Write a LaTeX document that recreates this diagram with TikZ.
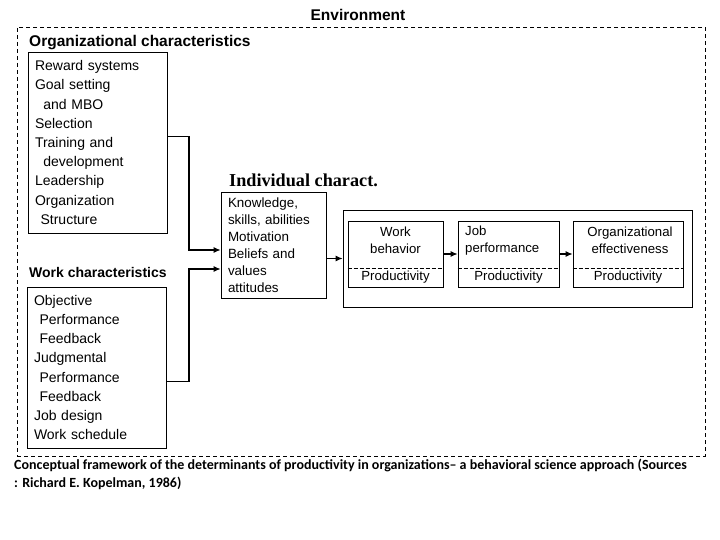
\documentclass[tikz,border=0pt]{standalone}
\usepackage{fontspec}
\setmainfont{Liberation Sans}
\newfontfamily\capfont{Carlito}
\newfontfamily\serifbold{Liberation Serif}
\usetikzlibrary{arrows.meta}

\begin{document}
\begin{tikzpicture}[x=1pt,y=-1pt,
  envbox/.style={draw,dashed,dash pattern=on 4pt off 3pt,line width=.7pt,inner sep=0pt},
  listbox/.style={draw,line width=.8pt,align=left,inner xsep=7pt,inner ysep=0pt,
    font=\fontsize{14}{19.2}\selectfont},
  smallbox/.style={draw,line width=.8pt,inner sep=0pt,minimum height=66pt},
  heading/.style={anchor=west,inner sep=0pt,font=\bfseries\fontsize{15.5}{18}\selectfont},
  cell/.style={align=center,inner sep=0pt,font=\fontsize{13.2}{17}\selectfont},
  arr/.style={-{Latex[length=7pt,width=6pt]},line width=1.1pt}]
  \useasboundingbox (0,0) rectangle (720,540);
  % environment frame
  \node[envbox,minimum width=688pt,minimum height=429pt] (env) at (361,241.5) {};
  \node[inner sep=0pt,font=\bfseries\fontsize{15.5}{18}\selectfont] (envlab) at (358,15) {Environment};
  % left column
  \node[heading] (orglab) at (29,43) {Organizational characteristics};
  \node[listbox,text width=125pt,minimum height=181pt] (org) at (97.5,142.5)
  {Reward systems\\Goal setting\\\hspace*{.6em}and MBO\\Selection\\Training and\\
   \hspace*{.6em}development\\Leadership\\Organization\\\hspace*{.4em}Structure};
  \node[heading,font=\bfseries\fontsize{14}{16}\selectfont] (worklab) at (29,272) {Work characteristics};
  \node[listbox,text width=125pt,minimum height=161pt] (work) at (96.5,367.5)
  {Objective\\\hspace*{.4em}Performance\\\hspace*{.4em}Feedback\\Judgmental\\
   \hspace*{.4em}Performance\\\hspace*{.4em}Feedback\\Job design\\Work schedule};
  % individual
  \node[anchor=west,inner sep=0pt,font=\serifbold\bfseries\fontsize{18.2}{21}\selectfont]
    (indlab) at (229,180) {Individual charact.};
  \node[draw,line width=.8pt,align=left,inner xsep=7pt,inner ysep=0pt,text width=91pt,
    minimum height=106pt,font=\fontsize{13.4}{17}\selectfont] (ind) at (273.5,245)
  {Knowledge,\\skills, abilities\\Motivation\\Beliefs and\\values\\attitudes};
  % outcomes
  \node[draw,line width=.8pt,minimum width=349pt,minimum height=97pt] (out) at (517.5,258.5) {};
  \node[smallbox,minimum width=95pt] (wb) at (395.5,254) {};
  \node[smallbox,minimum width=101pt] (jp) at (508.5,254) {};
  \node[smallbox,minimum width=110pt] (oe) at (628,254) {};
  \foreach \b in {wb,jp,oe}{
    \draw[dashed,dash pattern=on 4pt off 2pt,line width=.6pt]
      ([yshift=19pt]\b.south west) -- ([yshift=19pt]\b.south east);
    \node[cell] (\b prod) at ([yshift=10pt]\b.south) {Productivity};
  }
  \node[cell] (wbtxt) at (395.5,240.5) {Work\\behavior};
  \node[cell,align=left,anchor=west] (jptxt) at (465,240.5) {Job\\performance};
  \node[cell] (oetxt) at (630,240.5) {Organizational\\effectiveness};
  % connectors
  \coordinate (bend) at (189,0);
  \draw[arr] ([yshift=6pt]org.east) -| (bend |- 0,250) -- ([yshift=-5pt]ind.west);
  \draw[arr] ([yshift=-14pt]work.east) -| (bend |- 0,269) -- ([yshift=-24pt]ind.west);
  \draw[arr] (ind.east |- out.west) -- (out.west);
  \draw[arr] (wb.east) -- (jp.west);
  \draw[arr] (jp.east) -- (oe.west);
  % caption
  \node[anchor=north west,align=left,inner sep=0pt,
    font=\capfont\bfseries\fontsize{14}{18}\selectfont] (cap) at (14,459)
  {Conceptual framework of the determinants of productivity in organizations– a behavioral science approach (Sources\\
   : Richard E. Kopelman, 1986)};
\end{tikzpicture}
\end{document}
